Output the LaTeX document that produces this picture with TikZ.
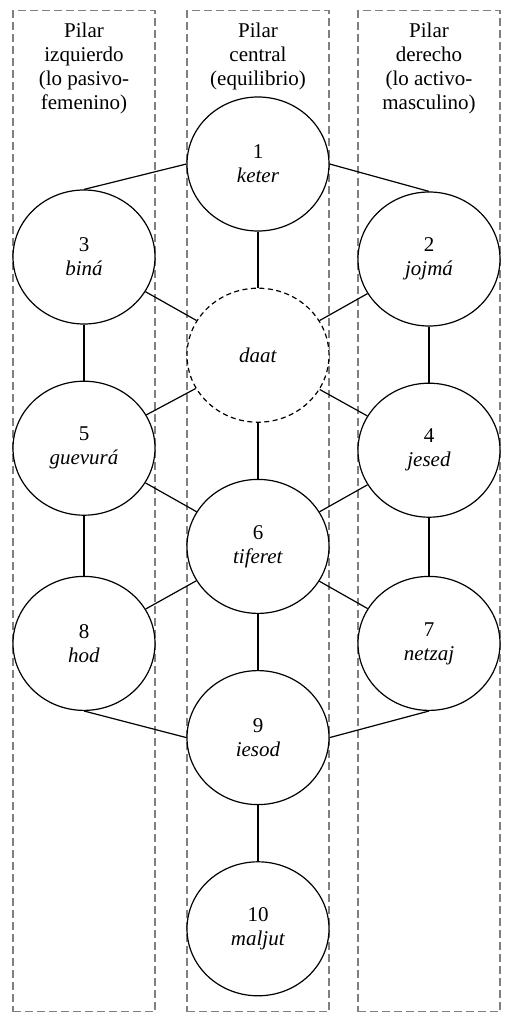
\documentclass[tikz,border=0pt]{standalone}
\usepackage{fontspec}
\setmainfont{Liberation Serif}
\usetikzlibrary{positioning,shapes.geometric}

\begin{document}
\begin{tikzpicture}[x=1pt, y=-1pt, node distance=56pt,
		font=\fontsize{21}{24}\selectfont,
		c/.style={ellipse, draw, fill=white, line width=1.2pt, minimum width=142pt, minimum height=134pt, inner sep=0pt, align=center},
		d/.style={dash pattern=on 5pt off 3.5pt},
		p/.style={draw=gray, line width=1.3pt, dash pattern=on 8pt off 4pt, minimum width=142pt, minimum height=1001pt, anchor=north, inner sep=0pt},
		h/.style={align=center, inner sep=0pt}]
		\useasboundingbox (0,0) rectangle (512,1022);

		% pilares
		\node[p] (izq) at (84,10) {};
		\node[p] (cen) at (258,10) {};
		\node[p] (der) at (429,10) {};
		\node[h, below=13pt of izq.north] (tizq) {Pilar\\izquierdo\\(lo pasivo-\\femenino)};
		\node[h, below=13pt of cen.north] (tcen) {Pilar\\central\\(equilibrio)};
		\node[h, below=13pt of der.north] (tder) {Pilar\\derecho\\(lo activo-\\masculino)};

		% sefirot
		\node[c] (keter) at (258,164) {1\\\textit{keter}};
		\node[c] (bina) at (84,257) {3\\\textit{biná}};
		\node[c] (jojma) at (429,259) {2\\\textit{jojmá}};
		\node[c, d, below=of keter] (daat) {\textit{daat}};
		\node[c, below=of daat] (tiferet) {6\\\textit{tiferet}};
		\node[c, below=of tiferet] (iesod) {9\\\textit{iesod}};
		\node[c, below=of iesod] (maljut) {10\\\textit{maljut}};
		\node[c, below=of bina] (guevura) {5\\\textit{guevurá}};
		\node[c, below=60pt of guevura] (hod) {8\\\textit{hod}};
		\node[c, below=of jojma] (jesed) {4\\\textit{jesed}};
		\node[c, below=58pt of jesed] (netzaj) {7\\\textit{netzaj}};

		\path[very thick] (keter.west) edge (bina.north);
		\path[very thick] (keter.east) edge (jojma.north);
		\path[very thick] (keter) edge (daat);
		\path[very thick] (bina) edge (daat);
		\path[very thick] (jojma) edge (daat);
		\path[very thick] (bina) edge (guevura);
		\path[very thick] (jojma) edge (jesed);
		\path[very thick] (daat) edge (guevura);
		\path[very thick] (daat) edge (jesed);
		\path[very thick] (daat) edge (tiferet);
		\path[very thick] (guevura) edge (tiferet);
		\path[very thick] (jesed) edge (tiferet);
		\path[very thick] (guevura) edge (hod);
		\path[very thick] (jesed) edge (netzaj);
		\path[very thick] (tiferet) edge (hod);
		\path[very thick] (tiferet) edge (netzaj);
		\path[very thick] (tiferet) edge (iesod);
		\path[very thick] (hod.south) edge (iesod.west);
		\path[very thick] (netzaj.south) edge (iesod.east);
		\path[very thick] (iesod) edge (maljut);
	\end{tikzpicture}
\end{document}
